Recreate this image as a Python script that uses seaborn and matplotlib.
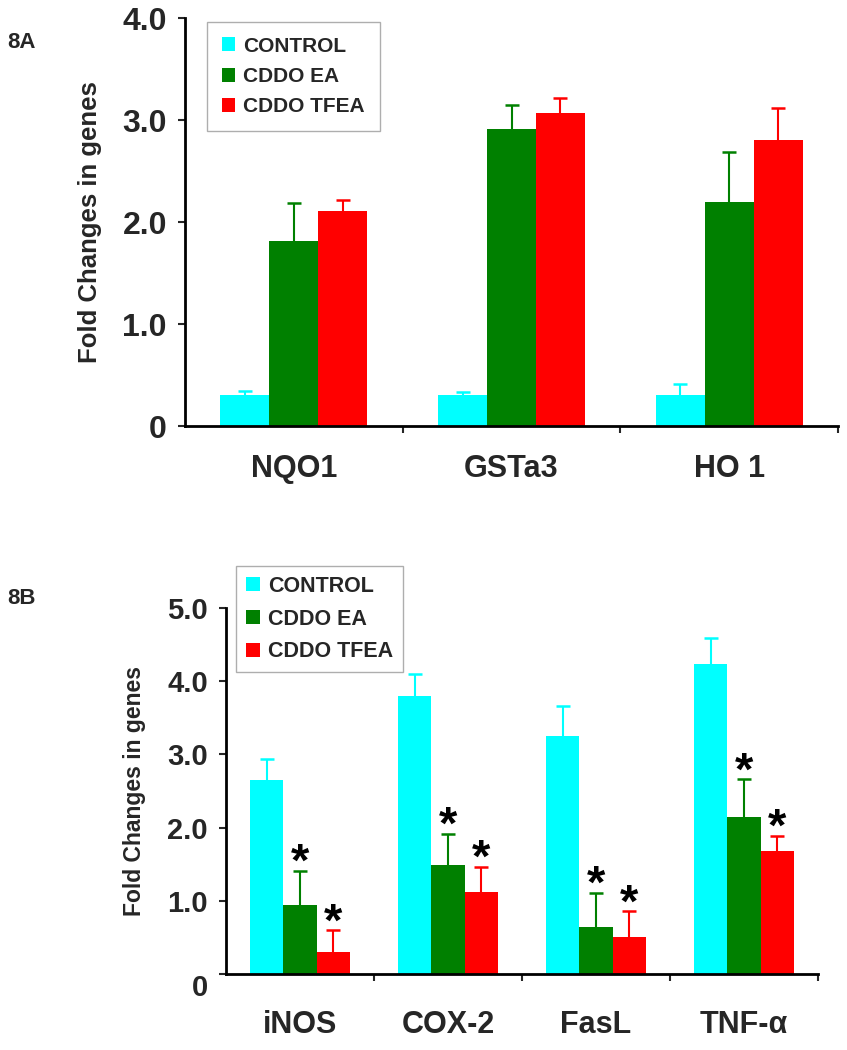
import numpy as np
import pandas as pd
import matplotlib
matplotlib.use("Agg")
import matplotlib.pyplot as plt
from matplotlib.patches import Patch
from matplotlib.container import BarContainer
import seaborn as sns

# ---------------- data ----------------
treatments = ["CONTROL", "CDDO EA", "CDDO TFEA"]
colors = ["#00FFFF", "#008000", "#FF0000"]

genes_a = ["NQO1", "GSTa3", "HO 1"]
control_a = [0.30, 0.30, 0.30]
ea_a = [1.81, 2.91, 2.20]
tfea_a = [2.11, 3.07, 2.80]
control_a_err = [0.04, 0.03, 0.11]
ea_a_err = [0.38, 0.24, 0.49]
tfea_a_err = [0.11, 0.15, 0.32]

genes_b = ["iNOS", "COX-2", "FasL", "TNF-α"]
control_b = [2.65, 3.80, 3.25, 4.23]
ea_b = [0.95, 1.49, 0.64, 2.14]
tfea_b = [0.30, 1.12, 0.51, 1.68]
control_b_err = [0.29, 0.29, 0.41, 0.36]
ea_b_err = [0.46, 0.43, 0.47, 0.52]
tfea_b_err = [0.30, 0.35, 0.35, 0.21]
star_ea_b = [True, True, True, True]
star_tfea_b = [True, True, True, True]

yticks_a = [0, 1, 2, 3, 4]
yticklabels_a = ["0", "1.0", "2.0", "3.0", "4.0"]
yticks_b = [0, 1, 2, 3, 4, 5]
yticklabels_b = ["0", "1.0", "2.0", "3.0", "4.0", "5.0"]
ylabel = "Fold Changes in genes"

# ---------------- style ----------------
sns.set_style("white")
plt.rcParams["font.family"] = ["Liberation Sans", "DejaVu Sans"]
plt.rcParams["font.weight"] = "bold"

W, H = 847, 1050
fig = plt.figure(figsize=(W / 100, H / 100), dpi=100)


def fig_rect(x0, x1, ytop, ybot):
    return [x0 / W, 1 - ybot / H, (x1 - x0) / W, (ybot - ytop) / H]


def panel(ax, genes, vals, errs, stars, ymax, yticks, yticklabels,
          fs_ytick, fs_xtick, xpad, fs_ylabel, leg_xy, leg_fs, leg_pad):
    rows = []
    for t, v in zip(treatments, vals):
        for g, val in zip(genes, v):
            rows.append({"gene": g, "treatment": t, "value": val})
    df = pd.DataFrame(rows)
    sns.barplot(data=df, x="gene", y="value", hue="treatment",
                order=genes, hue_order=treatments, palette=colors,
                width=0.675, errorbar=None, saturation=1, gap=0,
                linewidth=0, ax=ax)
    bar_conts = [c for c in ax.containers if isinstance(c, BarContainer)]
    for i, cont in enumerate(bar_conts):
        for j, bar in enumerate(cont.patches):
            x = bar.get_x() + bar.get_width() / 2
            h = bar.get_height()
            e = errs[i][j]
            eb = ax.errorbar(x, h, yerr=[[0], [e]], fmt="none",
                             ecolor=colors[i], elinewidth=1.5, capsize=5,
                             capthick=1.8, zorder=1)
            caps = eb.lines[1]
            if len(caps) == 2:
                caps[0].set_visible(False)
            if stars is not None and stars[i] is not None and stars[i][j]:
                ax.annotate("*", xy=(x, h + e), xytext=(0, -11),
                            textcoords="offset points", ha="center",
                            va="bottom", fontsize=34, fontweight="bold",
                            color="black")
    ax.set_ylim(0, ymax)
    ax.set_xlim(-0.5, len(genes) - 0.5)
    ax.set_yticks(yticks)
    ax.set_yticklabels(yticklabels, fontsize=fs_ytick, fontweight="bold")
    ax.set_xticks(range(len(genes)))
    ax.set_xticklabels(genes, fontsize=fs_xtick, fontweight="bold")
    ax.set_xticks(np.arange(len(genes)) + 0.5, minor=True)
    ax.tick_params(axis="x", which="major", length=0, pad=xpad)
    ax.tick_params(axis="x", which="minor", length=5, width=1.5,
                   direction="out", bottom=True)
    ax.tick_params(axis="y", which="major", length=5, width=1.5,
                   direction="out", pad=8, left=True)
    ax.set_xlabel("")
    ax.set_ylabel(ylabel, fontsize=fs_ylabel, fontweight="bold", labelpad=15)
    for s in ["top", "right"]:
        ax.spines[s].set_visible(False)
    for s in ["left", "bottom"]:
        ax.spines[s].set_linewidth(2)
        ax.spines[s].set_color("black")
    if ax.get_legend() is not None:
        ax.get_legend().remove()
    handles = [Patch(facecolor=c, edgecolor="none") for c in colors]
    leg = ax.legend(handles, treatments, loc="upper left",
                    bbox_to_anchor=(leg_xy[0] / W, 1 - leg_xy[1] / H),
                    bbox_transform=fig.transFigure, frameon=True,
                    fancybox=False, edgecolor="#9a9a9a",
                    prop={"weight": "bold", "size": leg_fs},
                    handlelength=0.65, handleheight=0.65,
                    handletextpad=0.4, labelspacing=0.55,
                    borderpad=leg_pad, borderaxespad=0)
    leg.get_frame().set_linewidth(1)
    return ax


# ---------------- panel A ----------------
axA = fig.add_axes(fig_rect(185, 838, 18, 426))
panel(axA, genes_a, [control_a, ea_a, tfea_a],
      [control_a_err, ea_a_err, tfea_a_err], None, 4.0,
      yticks_a, yticklabels_a, 23, 22, 20, 18.5, (207, 22), 15, 0.7)

# ---------------- panel B ----------------
axB = fig.add_axes(fig_rect(226, 818, 607.7, 974.3))
panel(axB, genes_b, [control_b, ea_b, tfea_b],
      [control_b_err, ea_b_err, tfea_b_err],
      [None, star_ea_b, star_tfea_b], 5.0,
      yticks_b, yticklabels_b, 21, 22, 26, 16.5, (236, 566), 15.5, 0.45)
axB.yaxis.get_major_ticks()[0].label1.set_verticalalignment("top")

fig.text(7 / W, 1 - 42 / H, "8A", fontsize=16, fontweight="bold",
         ha="left", va="center")
fig.text(7 / W, 1 - 598 / H, "8B", fontsize=16, fontweight="bold",
         ha="left", va="center")

fig.savefig("out.png", dpi=100)
